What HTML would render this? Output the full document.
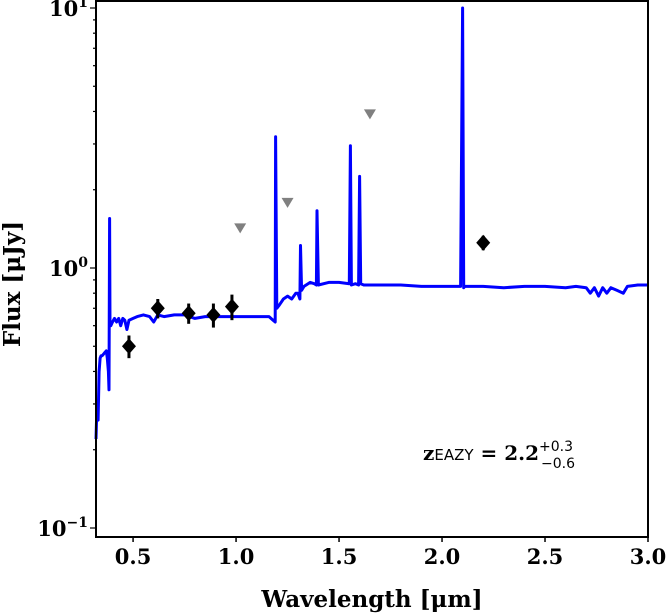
<!DOCTYPE html>
<html><head><meta charset="utf-8"><style>
body{margin:0;background:#fff}
svg{display:block}
</style></head><body>
<svg id="chart" width="667" height="613" xmlns="http://www.w3.org/2000/svg" font-family="'DejaVu Serif', serif">
<g id="plot"></g>
</svg>
<script>
const specWave=[0.32,0.325,0.33,0.335,0.34,0.345,0.35,0.36,0.37,0.375,0.38,0.383,0.386,0.388,0.392,0.40,0.41,0.42,0.43,0.44,0.45,0.46,0.47,0.48,0.50,0.52,0.55,0.58,0.60,0.62,0.65,0.70,0.75,0.80,0.85,0.90,1.0,1.1,1.16,1.18,1.19,1.192,1.198,1.21,1.23,1.25,1.27,1.29,1.30,1.31,1.313,1.318,1.33,1.36,1.38,1.39,1.393,1.40,1.45,1.50,1.55,1.555,1.56,1.58,1.595,1.60,1.605,1.62,1.70,1.80,1.90,2.00,2.09,2.10,2.105,2.11,2.20,2.30,2.40,2.50,2.60,2.65,2.70,2.72,2.74,2.76,2.78,2.80,2.82,2.85,2.88,2.90,2.95,3.0];
const specFlux=[0.22,0.30,0.26,0.40,0.45,0.46,0.46,0.47,0.48,0.45,0.40,0.34,1.55,0.60,0.60,0.62,0.64,0.62,0.64,0.60,0.64,0.63,0.58,0.63,0.64,0.65,0.66,0.65,0.62,0.66,0.65,0.66,0.66,0.64,0.65,0.65,0.65,0.65,0.65,0.63,0.62,3.2,0.70,0.72,0.76,0.78,0.76,0.80,0.80,0.76,1.22,0.82,0.85,0.88,0.87,0.86,1.66,0.86,0.88,0.88,0.87,2.95,0.86,0.87,0.86,2.25,0.87,0.86,0.86,0.86,0.85,0.85,0.85,10.0,0.84,0.85,0.85,0.84,0.85,0.85,0.84,0.85,0.84,0.80,0.84,0.78,0.84,0.80,0.84,0.82,0.80,0.85,0.86,0.86];
const photWave=[0.48,0.62,0.77,0.89,0.98,2.2];
const photFlux=[0.50,0.70,0.67,0.66,0.71,1.25];
const photErr=[0.05,0.06,0.06,0.07,0.08,0.08];
const limWave=[1.02,1.25,1.65];
const limFlux=[1.42,1.78,3.9];
const xTicks=[0.5,1.0,1.5,2.0,2.5,3.0];
const xTickLabels=["0.5","1.0","1.5","2.0","2.5","3.0"];

const L=96,R=648,T=1,B=537;
const xMin=0.32,xMax=3.0;
const X=v=>L+(v-xMin)/(xMax-xMin)*(R-L);
const Y=v=>268-Math.log10(v)*260;
const NS="http://www.w3.org/2000/svg";
const g=document.getElementById('plot');
function mk(tag,attrs,parent){const e=document.createElementNS(NS,tag);for(const k in attrs)e.setAttribute(k,attrs[k]);(parent||g).appendChild(e);return e;}

let d=specWave.map((w,i)=>(i?'L':'M')+X(w).toFixed(1)+','+Y(specFlux[i]).toFixed(1)).join('');
const sp=mk('path',{d:d,fill:'none',stroke:'#0000ff','stroke-width':3,'stroke-linejoin':'round'});



photWave.forEach((w,i)=>{
 const x=X(w),y=Y(photFlux[i]);
 const eb=mk('line',{x1:x,x2:x,y1:Y(photFlux[i]+photErr[i]),y2:Y(photFlux[i]-photErr[i]),stroke:'#000','stroke-width':3});
 
 
 const p=mk('path',{d:`M${x},${y-8}L${x+7},${y}L${x},${y+8}L${x-7},${y}Z`,fill:'#000'});
 
 
});
limWave.forEach((w,i)=>{
 const x=X(w),y=Y(limFlux[i]);
 const p=mk('path',{d:`M${x-6},${y-5}L${x+6},${y-5}L${x},${y+5}Z`,fill:'#808080'});
 
 
});

const fr=mk('rect',{x:L,y:T,width:R-L,height:B-T,fill:'none',stroke:'#000','stroke-width':2});



xTicks.forEach((t,i)=>{
 const x=X(t);
 mk('line',{x1:x,x2:x,y1:B,y2:B+5,stroke:'#000','stroke-width':1.5});
 const tx=mk('text',{x:x,y:B+27,'text-anchor':'middle','font-size':21,'font-weight':'bold'});
 tx.textContent=xTickLabels[i];
 
 
});
for(let e=-1;e<=1;e++){
 for(let m=1;m<10;m++){
  const v=m*Math.pow(10,e); if(v>10.5) break;
  const y=Y(v); if(y<T||y>B) continue;
  mk('line',{x1:L-(m==1?6:3),x2:L,y1:y,y2:y,stroke:'#000','stroke-width':1.2});
 }
 const y=Y(Math.pow(10,e));
 const tx=mk('text',{x:L-8,y:y+8,'text-anchor':'end','font-size':21,'font-weight':'bold'});
 tx.innerHTML='10<tspan dy="-9" font-size="14">'+(e<0?'−1':e)+'</tspan>';
 
 
}
const xl=mk('text',{x:(L+R)/2,y:607,'text-anchor':'middle','font-size':23,'font-weight':'bold'});
xl.textContent='Wavelength [μm]';


const yl=mk('text',{x:0,y:0,'text-anchor':'middle','font-size':23,'font-weight':'bold',transform:'translate(20,284) rotate(-90)'});
yl.textContent='Flux [μJy]';


const ann=mk('text',{x:423,y:460,'font-size':20,'font-weight':'bold'});
ann.innerHTML='z<tspan font-family="DejaVu Sans, sans-serif" font-weight="normal" font-size="15">EAZY</tspan> = 2.2<tspan font-family="DejaVu Sans, sans-serif" font-weight="normal" font-size="14" dy="-9">+0.3</tspan><tspan font-family="DejaVu Sans, sans-serif" font-weight="normal" font-size="14" dx="-32" dy="17">−0.6</tspan>';


</script>
</body></html>
